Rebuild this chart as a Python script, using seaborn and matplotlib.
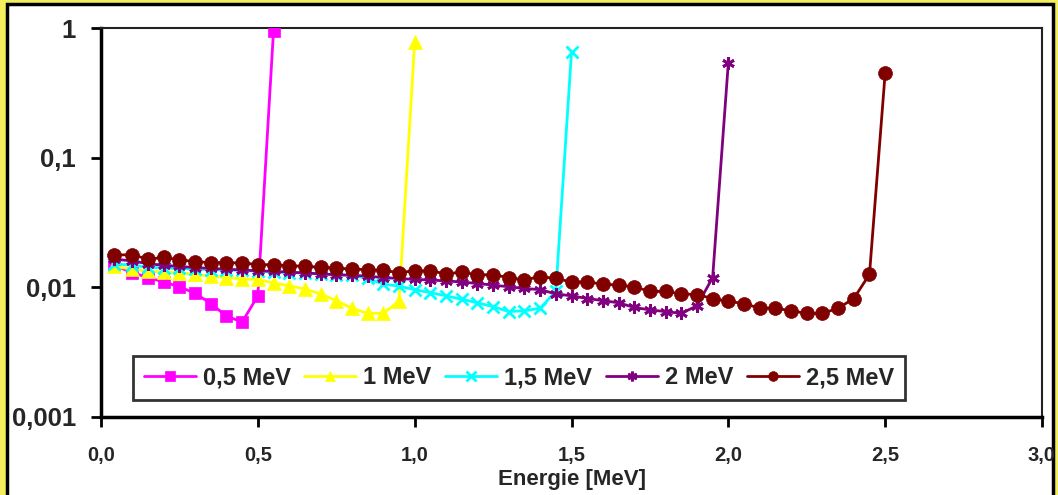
import numpy as np
import pandas as pd
import seaborn as sns
import matplotlib
matplotlib.use("Agg")
import matplotlib.pyplot as plt
from matplotlib import font_manager
from matplotlib.patches import Rectangle

# ---------------- data ----------------
x_05 = [0.04, 0.1, 0.15, 0.2, 0.25, 0.3, 0.35, 0.4, 0.45, 0.5, 0.55]
y_05 = [0.0148, 0.0130, 0.0119, 0.0110, 0.0101, 0.0090, 0.0075, 0.0060, 0.0054, 0.0086, 0.95]

x_10 = [0.04, 0.1, 0.15, 0.2, 0.25, 0.3, 0.35, 0.4, 0.45, 0.5, 0.55, 0.6, 0.65, 0.7,
        0.75, 0.8, 0.85, 0.9, 0.95, 1.0]
y_10 = [0.0145, 0.0138, 0.0133, 0.0131, 0.0130, 0.0126, 0.0122, 0.0119, 0.0116, 0.0115,
        0.0108, 0.0103, 0.0097, 0.0089, 0.0079, 0.0069, 0.0063, 0.0063, 0.0078, 0.78]

x_15 = [0.04, 0.1, 0.15, 0.2, 0.25, 0.3, 0.35, 0.4, 0.45, 0.5, 0.55, 0.6, 0.65, 0.7,
        0.75, 0.8, 0.85, 0.9, 0.95, 1.0, 1.05, 1.1, 1.15, 1.2, 1.25, 1.3, 1.35, 1.4,
        1.45, 1.5]
y_15 = [0.0152, 0.0148, 0.0143, 0.0141, 0.0140, 0.0138, 0.0137, 0.0136, 0.0135, 0.0133,
        0.0131, 0.0130, 0.0129, 0.0127, 0.0125, 0.0124, 0.0117, 0.0106, 0.0102, 0.0096,
        0.0091, 0.0086, 0.0081, 0.0076, 0.0071, 0.0065, 0.0066, 0.0069, 0.0093, 0.65]

x_20 = [0.04, 0.1, 0.15, 0.2, 0.25, 0.3, 0.35, 0.4, 0.45, 0.5, 0.55, 0.6, 0.65, 0.7,
        0.75, 0.8, 0.85, 0.9, 0.95, 1.0, 1.05, 1.1, 1.15, 1.2, 1.25, 1.3, 1.35, 1.4,
        1.45, 1.5, 1.55, 1.6, 1.65, 1.7, 1.75, 1.8, 1.85, 1.9, 1.95, 2.0]
y_20 = [0.0165, 0.0160, 0.0152, 0.0148, 0.0145, 0.0142, 0.0140, 0.0138, 0.0136, 0.0134,
        0.0133, 0.0131, 0.0129, 0.0127, 0.0125, 0.0124, 0.0122, 0.0119, 0.0117, 0.0115,
        0.0114, 0.0112, 0.0110, 0.0107, 0.0104, 0.0101, 0.0098, 0.0096, 0.0089, 0.0086,
        0.0082, 0.0079, 0.0076, 0.0070, 0.0067, 0.0065, 0.0063, 0.0072, 0.0119, 0.54]

x_25 = [0.04, 0.1, 0.15, 0.2, 0.25, 0.3, 0.35, 0.4, 0.45, 0.5, 0.55, 0.6, 0.65, 0.7,
        0.75, 0.8, 0.85, 0.9, 0.95, 1.0, 1.05, 1.1, 1.15, 1.2, 1.25, 1.3, 1.35, 1.4,
        1.45, 1.5, 1.55, 1.6, 1.65, 1.7, 1.75, 1.8, 1.85, 1.9, 1.95, 2.0, 2.05, 2.1,
        2.15, 2.2, 2.25, 2.3, 2.35, 2.4, 2.45, 2.5]
y_25 = [0.0178, 0.0178, 0.0165, 0.0170, 0.0163, 0.0158, 0.0155, 0.0155, 0.0154, 0.0150,
        0.0149, 0.0147, 0.0145, 0.0143, 0.0141, 0.0138, 0.0137, 0.0135, 0.0130, 0.0134,
        0.0134, 0.0127, 0.0131, 0.0125, 0.0125, 0.0119, 0.0114, 0.0121, 0.0117, 0.0110,
        0.0110, 0.0106, 0.0104, 0.0101, 0.0093, 0.0093, 0.0089, 0.0088, 0.0082, 0.0078,
        0.0075, 0.0069, 0.0069, 0.0066, 0.0063, 0.0063, 0.0069, 0.0082, 0.0126, 0.45]

series_labels = ["0,5 MeV", "1 MeV", "1,5 MeV", "2 MeV", "2,5 MeV"]
x_ticks = [0.0, 0.5, 1.0, 1.5, 2.0, 2.5, 3.0]
x_tick_labels = ["0,0", "0,5", "1,0", "1,5", "2,0", "2,5", "3,0"]
y_ticks = [0.001, 0.01, 0.1, 1]
y_tick_labels = ["0,001", "0,01", "0,1", "1"]
x_title = "Energie [MeV]"

# ---------------- style ----------------
sns.set_theme(style="white")
avail = {f.name for f in font_manager.fontManager.ttflist}
fam = [f for f in ["Liberation Sans Narrow", "Liberation Sans", "DejaVu Sans"] if f in avail]
plt.rcParams["font.family"] = fam
plt.rcParams["font.weight"] = "bold"

W, H = 1058, 495
fig = plt.figure(figsize=(W / 100, H / 100), dpi=100)
fig.patch.set_facecolor("#F3EE5E")
# white chart area with black frame (behind the axes)
fig.patches.append(Rectangle((7 / W, -0.05), (1053 - 7) / W, 1.05 - 4 / H,
                             transform=fig.transFigure, facecolor="white",
                             edgecolor="black", linewidth=2.5, zorder=-10))

ax = fig.add_axes([101 / W, 1 - 417 / H, (1042 - 101) / W, (417 - 28) / H])
ax.set_zorder(5)
ax.set_facecolor("white")

colors = ["#FF00FF", "#FFFF00", "#00FFFF", "#800080", "#800000"]
markers = ["s", "^", "x", (6, 2, 0), "o"]
msizes = [8, 10, 8, 9, 10]
xs = [x_05, x_10, x_15, x_20, x_25]
ys = [y_05, y_10, y_15, y_20, y_25]

for i in range(5):
    df = pd.DataFrame({"E": xs[i], "v": ys[i]})
    sns.lineplot(data=df, x="E", y="v", ax=ax, color=colors[i], marker=markers[i],
                 markersize=msizes[i], markeredgecolor=colors[i],
                 markeredgewidth=2 if i in (2, 3) else 0.5, linewidth=2,
                 label=series_labels[i], zorder=3 + i)

ax.set_yscale("log")
ax.set_xlim(0, 3)
ax.set_ylim(0.001, 1)
ax.set_xticks(x_ticks)
ax.set_xticklabels(x_tick_labels, fontsize=14.5, fontweight="bold")
ax.set_yticks(y_ticks)
ax.set_yticklabels(y_tick_labels, fontsize=18.5, fontweight="bold")
ax.yaxis.set_minor_locator(matplotlib.ticker.NullLocator())
ax.tick_params(axis="both", which="major", direction="out", length=7, width=2,
               color="black", left=True, bottom=True)
ax.tick_params(axis="x", pad=14)
ax.tick_params(axis="y", pad=11)
ax.set_xlabel(x_title, fontsize=16, fontweight="bold", labelpad=3)
ax.set_ylabel("")

for s in ["left", "bottom"]:
    ax.spines[s].set_linewidth(2.5)
    ax.spines[s].set_color("black")
for s in ["top", "right"]:
    ax.spines[s].set_linewidth(1.5)
    ax.spines[s].set_color("#222222")

leg = ax.legend(ncol=5, loc="lower left", bbox_to_anchor=(0.034, 0.044, 0.82, 0.115),
                mode="expand", borderaxespad=0, frameon=True, fancybox=False,
                handlelength=2.2, handletextpad=0.3, columnspacing=0.8,
                borderpad=0.45, prop={"weight": "bold", "size": 17})
leg.get_frame().set_edgecolor("black")
leg.get_frame().set_linewidth(2)
for h in leg.legend_handles:
    h.set_markersize(7)

fig.savefig("out.png", dpi=100, facecolor=fig.get_facecolor())
